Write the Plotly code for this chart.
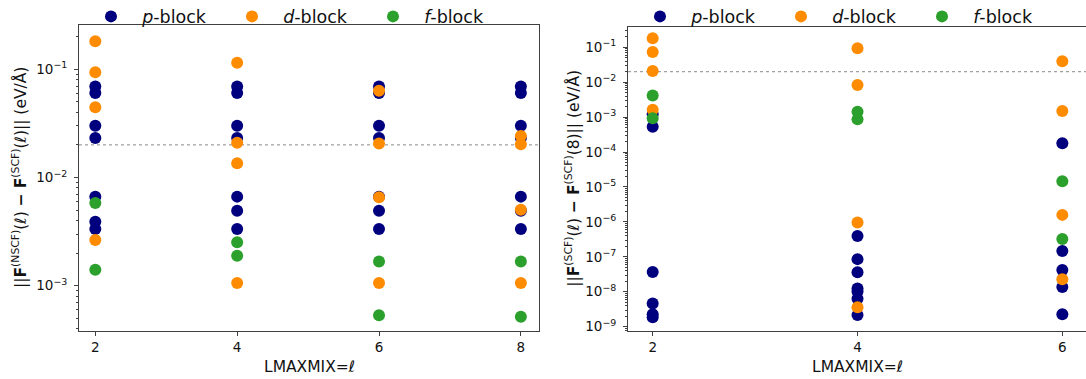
import plotly.graph_objects as go

# ---------------- data ----------------
# Left panel: ||F_NSCF(l) - F_SCF(l)||
L_p_x = [2]*7 + [4]*7 + [6]*7 + [8]*7
L_p_y = [0.0693, 0.0602, 0.0301, 0.0231, 0.00665, 0.0039, 0.00334,
         0.0693, 0.0602, 0.0301, 0.0231, 0.00665, 0.00492, 0.00334,
         0.0693, 0.0602, 0.0301, 0.0231, 0.00665, 0.00492, 0.00334,
         0.0693, 0.0602, 0.0301, 0.0231, 0.00665, 0.00492, 0.00334]
L_d_x = [2]*4 + [4]*4 + [6]*4 + [8]*4
L_d_y = [0.1815, 0.094, 0.0446, 0.00264,
         0.115, 0.0209, 0.0135, 0.00106,
         0.0634, 0.0206, 0.00656, 0.00106,
         0.0242, 0.0203, 0.00502, 0.00106]
L_f_x = [2, 2, 4, 4, 6, 6, 8, 8]
L_f_y = [0.00582, 0.0014, 0.00252, 0.00189, 0.00167, 0.000532, 0.00167, 0.000517]

# Right panel: ||F_SCF(l) - F_SCF(8)||
R_p_x = [2]*6 + [4]*7 + [6]*5
R_p_y = [0.00122, 0.000527, 3.7e-8, 4.6e-9, 2.27e-9, 1.86e-9,
         3.95e-7, 8.6e-8, 3.6e-8, 1.25e-8, 1.02e-8, 6.3e-9, 2.17e-9,
         1.79e-4, 1.46e-7, 4.2e-8, 1.36e-8, 2.27e-9]
R_d_x = [2]*4 + [4]*4 + [6]*4
R_d_y = [0.181, 0.0735, 0.0209, 0.00163,
         0.0936, 0.0083, 9.6e-7, 3.6e-9,
         0.0396, 0.00149, 1.59e-6, 2.27e-8]
R_f_x = [2, 2, 4, 4, 6, 6]
R_f_y = [0.00419, 0.000935, 0.00142, 0.000877, 1.46e-5, 3.24e-7]

threshold = 0.02
L_xticks = [2, 4, 6, 8]
R_xticks = [2, 4, 6]
L_yticks = [1e-3, 1e-2, 1e-1]
L_ytext = ["10<sup>−3</sup>", "10<sup>−2</sup>", "10<sup>−1</sup>"]
R_yticks = [10.0**e for e in range(-9, 0)]
R_ytext = ["10<sup>−%d</sup>" % k for k in range(9, 0, -1)]

names = ["&nbsp;&nbsp;<i>p</i>-block", "&nbsp;&nbsp;<i>d</i>-block", "&nbsp;&nbsp;<i>f</i>-block"]
colors = ["#00007f", "#ff8c00", "#2ca02c"]

W, H = 1086, 379
FONT = "DejaVu Sans"
AX = "#404040"

def px(x):
    return x / W

def py(y):
    return 1 - y / H

fig = go.Figure()
left = [(L_p_x, L_p_y), (L_d_x, L_d_y), (L_f_x, L_f_y)]
right = [(R_p_x, R_p_y), (R_d_x, R_d_y), (R_f_x, R_f_y)]
for i, (xs, ys) in enumerate(left):
    fig.add_trace(go.Scatter(x=xs, y=ys, mode="markers", name=names[i],
                             marker=dict(color=colors[i], size=12, line=dict(width=0)),
                             xaxis="x", yaxis="y", legend="legend"))
for i, (xs, ys) in enumerate(right):
    fig.add_trace(go.Scatter(x=xs, y=ys, mode="markers", name=names[i],
                             marker=dict(color=colors[i], size=12, line=dict(width=0)),
                             xaxis="x2", yaxis="y2", legend="legend2"))

tickfont = dict(family=FONT, size=13.5, color="#111")
common_x = dict(showgrid=False, zeroline=False, showline=True, linecolor=AX, linewidth=1,
                ticks="outside", ticklen=4, tickcolor=AX, tickfont=tickfont, automargin=False)
common_y = dict(type="log", showgrid=False, zeroline=False, showline=True, linecolor=AX,
                linewidth=1, ticks="outside", ticklen=4, tickcolor=AX, tickfont=tickfont,
                automargin=False, ticklabelstandoff=4,
                minor=dict(ticks="outside", ticklen=2, tickcolor=AX, dtick="D1", showgrid=False))

legend_common = dict(orientation="h", yanchor="middle", xanchor="left",
                     font=dict(family=FONT, size=17.5, color="#111"),
                     bgcolor="rgba(0,0,0,0)", entrywidth=96, entrywidthmode="pixels",
                     tracegroupgap=0)

fig.update_layout(
    width=W, height=H, autosize=False,
    margin=dict(l=0, r=0, t=0, b=0, autoexpand=False),
    paper_bgcolor="white", plot_bgcolor="white",
    font=dict(family=FONT, size=13.5, color="#111"),
    xaxis=dict(domain=[px(79), px(539.3)], range=[1.77, 8.26], tickvals=L_xticks,
               mirror=True, anchor="y", **common_x),
    yaxis=dict(domain=[py(331), py(25)], range=[-3.419, -0.591], tickvals=L_yticks,
               ticktext=L_ytext, mirror=True, anchor="x", **common_y),
    xaxis2=dict(domain=[px(628), 1.0], range=[1.759, 6.231], tickvals=R_xticks,
                mirror=True, anchor="y2", **common_x),
    yaxis2=dict(domain=[py(330.7), py(26.7)], range=[-9.115, -0.41], tickvals=R_yticks,
                ticktext=R_ytext, mirror=False, anchor="x2", **common_y),
    legend=dict(x=px(91), y=py(16.5), **legend_common),
    legend2=dict(x=px(640), y=py(16.5), **legend_common),
    showlegend=True,
)

# threshold lines
for xr, yr in [("x domain", "y"), ("x2 domain", "y2")]:
    fig.add_shape(type="line", xref=xr, yref=yr, x0=0, x1=1, y0=threshold, y1=threshold,
                  line=dict(color="#888888", width=1, dash="dot"), layer="below")

ttl = dict(family=FONT, size=15.5, color="#111")
fig.add_annotation(text="LMAXMIX=<i>ℓ</i>", xref="paper", yref="paper",
                   x=px((79 + 539.3) / 2), y=py(366.5), showarrow=False, font=ttl,
                   xanchor="center", yanchor="middle")
fig.add_annotation(text="LMAXMIX=<i>ℓ</i>", xref="paper", yref="paper",
                   x=px(857.5), y=py(366.5), showarrow=False, font=ttl,
                   xanchor="center", yanchor="middle")
fig.add_annotation(text="||<b>F</b><sup>(NSCF)</sup>(<i>ℓ</i>) <b>−</b> <b>F</b><sup>(SCF)</sup>(<i>ℓ</i>)|| (eV/Å)",
                   xref="paper", yref="paper", x=px(20), y=py(178), textangle=-90,
                   showarrow=False, font=ttl, xanchor="center", yanchor="middle")
fig.add_annotation(text="||<b>F</b><sup>(SCF)</sup>(<i>ℓ</i>) <b>−</b> <b>F</b><sup>(SCF)</sup>(8)|| (eV/Å)",
                   xref="paper", yref="paper", x=px(573), y=py(178.7), textangle=-90,
                   showarrow=False, font=ttl, xanchor="center", yanchor="middle")

fig.write_html("out.html")
